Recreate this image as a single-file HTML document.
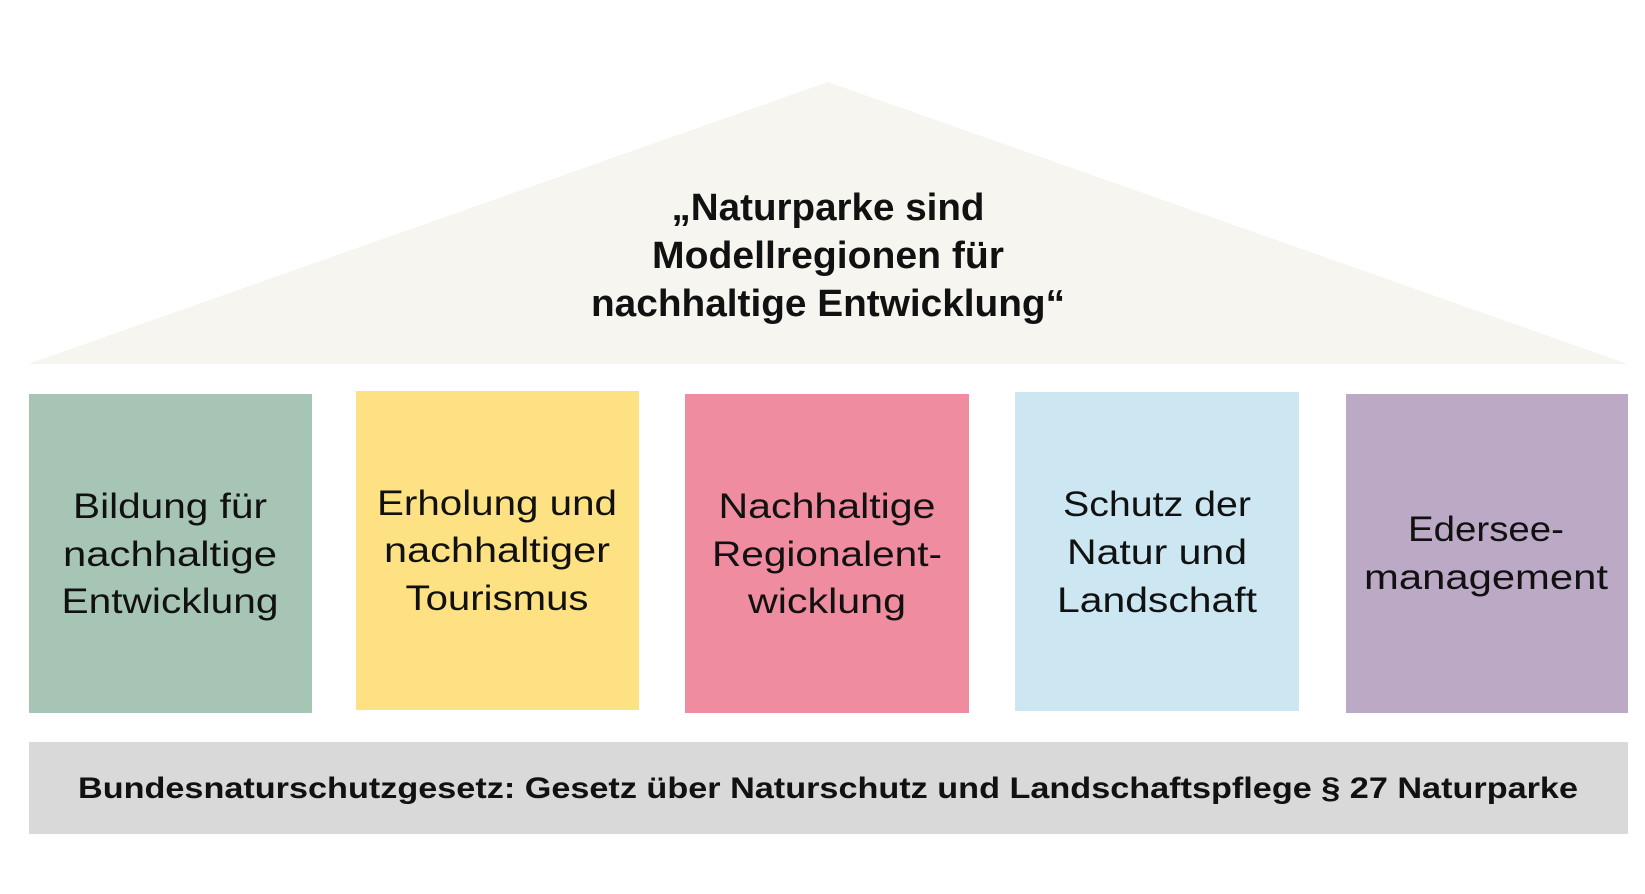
<!DOCTYPE html>
<html><head><meta charset="utf-8"><style>
html,body{margin:0;padding:0;background:#fff;}
svg{display:block;}
text{font-family:"Liberation Sans",sans-serif;fill:#111;}
.b{font-weight:bold;}
</style></head><body>
<svg width="1645" height="894" viewBox="0 0 1645 894" xmlns="http://www.w3.org/2000/svg">
<rect width="1645" height="894" fill="#fff"/>
<polygon points="28,364 828,82 1628,364" fill="#f7f5ef"/>
<g class="b" font-size="38" text-anchor="middle">
<text class="b" x="828" y="220" textLength="313" lengthAdjust="spacingAndGlyphs">„Naturparke sind</text>
<text class="b" x="828" y="268" textLength="352" lengthAdjust="spacingAndGlyphs">Modellregionen für</text>
<text class="b" x="828" y="316" textLength="474" lengthAdjust="spacingAndGlyphs">nachhaltige Entwicklung“</text>
</g>
<rect x="29" y="394" width="283" height="319" fill="#a6c5b5"/>
<rect x="356" y="391" width="283" height="319" fill="#fde182"/>
<rect x="685" y="394" width="284" height="319" fill="#ef8c9f"/>
<rect x="1015" y="392" width="284" height="319" fill="#cce7f2"/>
<rect x="1346" y="394" width="282" height="319" fill="#bca9c6"/>
<g font-size="35" text-anchor="middle">
<text x="170" y="518" textLength="194" lengthAdjust="spacingAndGlyphs">Bildung für</text>
<text x="170" y="566" textLength="214" lengthAdjust="spacingAndGlyphs">nachhaltige</text>
<text x="170" y="613" textLength="217" lengthAdjust="spacingAndGlyphs">Entwicklung</text>
<text x="497" y="515" textLength="240" lengthAdjust="spacingAndGlyphs">Erholung und</text>
<text x="497" y="562" textLength="226" lengthAdjust="spacingAndGlyphs">nachhaltiger</text>
<text x="497" y="610" textLength="183" lengthAdjust="spacingAndGlyphs">Tourismus</text>
<text x="827" y="518" textLength="217" lengthAdjust="spacingAndGlyphs">Nachhaltige</text>
<text x="827" y="566" textLength="230" lengthAdjust="spacingAndGlyphs">Regionalent-</text>
<text x="827" y="613" textLength="158" lengthAdjust="spacingAndGlyphs">wicklung</text>
<text x="1157" y="516" textLength="188" lengthAdjust="spacingAndGlyphs">Schutz der</text>
<text x="1157" y="564" textLength="180" lengthAdjust="spacingAndGlyphs">Natur und</text>
<text x="1157" y="612" textLength="200" lengthAdjust="spacingAndGlyphs">Landschaft</text>
<text x="1486" y="541" textLength="156" lengthAdjust="spacingAndGlyphs">Edersee-</text>
<text x="1486" y="589" textLength="244" lengthAdjust="spacingAndGlyphs">management</text>
</g>
<rect x="29" y="742" width="1599" height="92" fill="#d9d9d9"/>
<text class="b" x="828" y="798" font-size="30" text-anchor="middle" textLength="1500" lengthAdjust="spacingAndGlyphs">Bundesnaturschutzgesetz: Gesetz über Naturschutz und Landschaftspflege §  27 Naturparke</text>
</svg>
</body></html>
